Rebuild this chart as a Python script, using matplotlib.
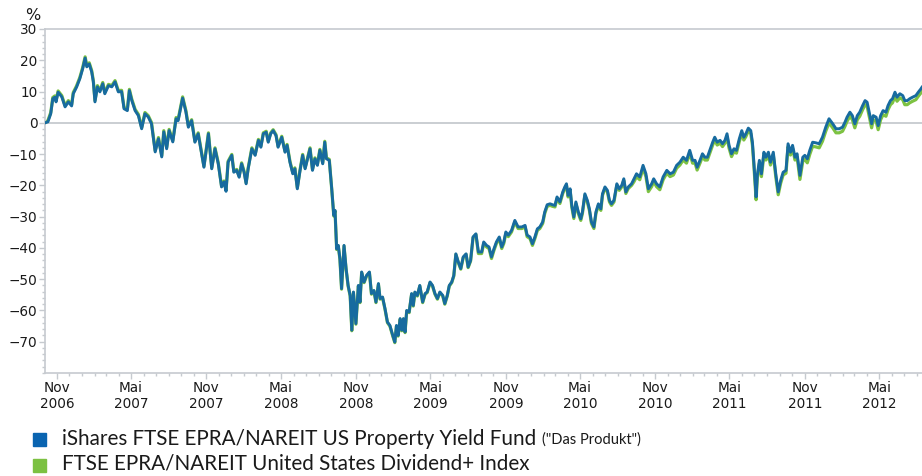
import numpy as np
import matplotlib
matplotlib.use("Agg")
import matplotlib.pyplot as plt
import matplotlib.dates as mdates
from matplotlib.ticker import MultipleLocator
from matplotlib.patches import Rectangle

# performance in %, sampled roughly weekly, day offsets counted from the first price
start = np.datetime64("2006-10-03")
days = [
    0, 7, 14, 19, 24, 27, 32, 41, 49, 57, 65, 69, 77, 85, 92, 98, 102, 108, 114, 118,
    122, 128, 134, 141, 146, 155, 163, 171, 179, 187, 193, 201, 206, 212, 220, 228, 236, 244, 252, 260,
    269, 277, 285, 290, 297, 303, 312, 320, 325, 336, 344, 350,
    358, 366, 374, 383, 388, 393, 399, 407, 415, 423, 431, 437, 442, 447, 456, 461, 468, 474, 480, 486,
    491, 496, 505, 513, 521, 527, 533, 540, 545, 551, 557, 564, 569, 578, 586, 591, 598, 605, 610, 616,
    622, 629, 635, 640, 647, 653, 659, 665, 671, 678, 683, 687, 694,
    700, 705, 708, 712, 716, 720, 724, 730, 735, 740, 745, 749, 753, 759, 765, 769, 773, 779, 785, 792,
    797, 803, 808, 814, 818, 824, 830, 836, 842, 849, 854, 858, 862, 867, 871, 875, 879, 883, 889, 895,
    899, 903, 909, 915, 922, 928, 933, 940, 946, 952, 958, 964, 971, 976, 982, 987, 993, 998, 1003, 1009,
    1015, 1021, 1028, 1033, 1039, 1045, 1052,
    1058, 1066, 1071, 1078, 1084, 1090, 1096, 1102, 1109, 1115, 1120, 1125, 1131, 1139, 1147, 1155, 1164, 1172, 1177, 1184,
    1190, 1196, 1202, 1208, 1215, 1220, 1226, 1233, 1239, 1245, 1250, 1257, 1264, 1269, 1273, 1277, 1282, 1286, 1291, 1296,
    1302, 1308, 1312, 1318, 1324, 1329, 1334, 1340, 1345, 1351, 1357, 1361, 1367, 1373, 1378, 1383, 1389, 1396, 1402, 1408,
    1413, 1418, 1424, 1432,
    1438, 1444, 1452, 1460, 1467, 1473, 1481, 1486, 1493, 1501, 1509, 1518, 1526, 1534, 1542, 1550, 1558, 1566, 1574, 1581,
    1587, 1592, 1599, 1605, 1611, 1617, 1623, 1630, 1635, 1641, 1648, 1654, 1660, 1665, 1670, 1676, 1682, 1688, 1695, 1701,
    1706, 1711, 1717, 1723, 1727, 1731, 1736, 1739, 1744, 1749, 1755, 1760, 1766, 1771, 1778, 1784, 1790, 1796, 1802, 1809,
    1814, 1820, 1825, 1831, 1836,
    1843, 1850, 1855, 1861, 1867, 1874, 1882, 1890, 1898, 1906, 1914, 1923, 1931, 1939, 1947, 1953, 1958, 1965, 1971, 1977,
    1983, 1989, 1996, 2002, 2007, 2012, 2018, 2022, 2029, 2034, 2040, 2046, 2053, 2058, 2064, 2069, 2075, 2080, 2087, 2094,
    2099, 2105, 2111, 2118, 2126, 2132, 2138, 2141,
]

# iShares FTSE EPRA/NAREIT US Property Yield Fund
fund = [
    0, 0.3, 2.9, 7.7, 8.2, 6.7, 9.8, 8.3, 5.1, 6.7, 5.4, 9.3, 11.4, 14.1, 17.3, 20.7, 17.9, 18.8, 16.3, 13.1,
    6.7, 11.5, 9.9, 12.5, 9.3, 11.9, 11.5, 13.1, 9.9, 10.0, 4.5, 3.9, 10.3, 7.1, 3.9, 2.3, -1.9, 2.9, 1.9, -0.3,
    -9.3, -5.1, -10.9, -2.9, -8.3, -2.5, -6.1, 1.3, 0.7, 7.9, 3.5, -1.4,
    0.7, -6.2, -3.5, -10.4, -14.2, -9.4, -3.5, -14.7, -8.3, -13.1, -20.5, -18.9, -21.9, -12.6, -10.4, -15.8, -15.2, -17.4, -13.1, -15.8,
    -19.5, -14.7, -8.3, -10.4, -5.6, -7.8, -3.5, -3.0, -6.2, -3.5, -2.5, -4.1, -7.8, -4.6, -9.4, -7.2, -12.6, -16.3, -14.7, -21.1,
    -15.8, -10.4, -14.7, -12.0, -8.3, -15.2, -11.5, -13.6, -8.8, -13.1, -6.2, -11.5, -12.0,
    -21.1, -29.6, -28.0, -40.3, -39.2, -43.5, -53.0, -39.2, -46.6, -52.0, -55.2, -66.3, -54.1, -64.2, -52.0, -57.3, -47.7, -50.9, -48.8, -47.7,
    -54.6, -53.6, -57.3, -51.4, -56.2, -55.7, -59.4, -63.7, -64.8, -68.0, -70.1, -64.8, -68.0, -62.6, -66.3, -62.6, -66.9, -60.0, -60.5, -54.6,
    -58.4, -54.1, -55.2, -52.0, -57.3, -54.6, -54.1, -50.9, -52.0, -54.6, -56.2, -54.1, -55.2, -57.8, -55.2, -52.0, -50.9, -48.8, -41.9, -44.5,
    -46.6, -42.9, -41.9, -46.1, -44.0, -36.5, -35.5,
    -41.3, -41.3, -38.1, -39.2, -39.7, -42.9, -40.3, -38.1, -36.5, -39.7, -38.1, -34.9, -35.9, -34.4, -31.2, -33.3, -33.3, -32.8, -35.9, -36.5,
    -38.7, -36.5, -33.9, -33.3, -31.7, -28.5, -26.2, -25.9, -26.2, -26.4, -23.7, -25.3, -22.1, -20.5, -19.5, -23.2, -21.1, -26.4, -30.1, -25.3,
    -28.5, -30.7, -28.5, -22.7, -24.8, -27.5, -31.7, -33.3, -28.5, -25.9, -27.5, -22.7, -20.5, -21.6, -24.8, -25.9, -24.8, -19.5, -21.1, -20.0,
    -17.9, -22.1, -20.5, -19.5,
    -17.9, -16.3, -17.3, -13.6, -16.3, -21.1, -19.5, -17.9, -19.5, -20.5, -17.3, -15.2, -16.3, -15.8, -13.6, -12.6, -11.0, -12.0, -8.8, -12.0,
    -12.0, -14.2, -12.0, -9.9, -11.0, -11.0, -8.8, -6.2, -4.6, -6.2, -5.6, -6.7, -5.6, -3.5, -7.2, -9.9, -8.3, -8.8, -5.1, -2.5,
    -4.6, -3.5, -1.7, -2.5, -6.2, -13.6, -23.7, -16.8, -12.0, -16.3, -9.4, -11.0, -9.4, -12.6, -9.4, -16.3, -22.1, -18.4, -15.8, -15.2,
    -6.7, -9.4, -7.2, -11.0, -9.9,
    -16.8, -11.0, -10.4, -11.5, -8.8, -6.2, -6.4, -6.7, -4.6, -1.4, 1.3, -0.3, -1.9, -1.9, -1.4, 0.2, 1.8, 3.4, 2.3, -0.3,
    2.3, 3.4, 5.5, 7.1, 6.6, 3.4, -0.3, 2.3, 1.8, -0.9, 2.3, 3.9, 3.4, 5.5, 7.1, 7.7, 9.8, 8.2, 9.3, 8.7,
    7.1, 7.1, 7.7, 8.2, 8.7, 9.8, 10.8, 11.4,
]

# FTSE EPRA/NAREIT United States Dividend+ Index
index = [
    0.0, 0.7, 3.3, 8.1, 8.6, 7.1, 10.2, 8.7, 5.5, 7.1, 5.8, 9.7, 11.8, 14.5, 17.7, 21.1, 18.3, 19.2, 16.7, 13.5,
    7.1, 11.9, 10.3, 12.9, 9.7, 12.3, 11.9, 13.5, 10.3, 10.4, 4.9, 4.3, 10.7, 7.5, 4.3, 2.7, -1.5, 3.3, 2.3, 0.1,
    -8.9, -4.7, -10.5, -2.5, -7.9, -2.1, -5.7, 1.7, 1.1, 8.3, 3.9, -1.0,
    1.0, -5.9, -3.2, -10.1, -13.9, -9.1, -3.2, -14.4, -8.0, -12.8, -20.2, -18.6, -21.6, -12.3, -10.1, -15.5, -14.9, -17.1, -12.8, -15.5,
    -19.2, -14.4, -8.0, -10.1, -5.3, -7.5, -3.2, -2.7, -5.9, -3.2, -2.2, -3.8, -7.5, -4.3, -9.1, -6.9, -12.3, -16.0, -14.4, -20.8,
    -15.5, -10.1, -14.4, -11.7, -8.0, -14.9, -11.2, -13.3, -8.5, -12.8, -5.9, -11.2, -11.7,
    -21.3, -29.8, -28.2, -40.5, -39.4, -43.7, -53.2, -39.4, -46.8, -52.2, -55.4, -66.5, -54.3, -64.4, -52.2, -57.5, -47.9, -51.1, -49.0, -47.9,
    -54.8, -53.8, -57.5, -51.6, -56.4, -55.9, -59.6, -63.9, -65.0, -68.2, -70.3, -65.0, -68.2, -62.8, -66.5, -62.8, -67.1, -60.2, -60.7, -54.8,
    -58.6, -54.3, -55.4, -52.2, -57.5, -54.8, -54.3, -51.1, -52.2, -54.8, -56.4, -54.3, -55.4, -58.0, -55.4, -52.2, -51.1, -49.0, -42.1, -44.7,
    -46.8, -43.1, -42.1, -46.3, -44.2, -36.7, -35.7,
    -41.8, -41.8, -38.6, -39.7, -40.2, -43.4, -40.8, -38.6, -37.0, -40.2, -38.6, -35.4, -36.4, -34.9, -31.7, -33.8, -33.8, -33.3, -36.4, -37.0,
    -39.2, -37.0, -34.4, -33.8, -32.2, -29.0, -26.7, -26.4, -26.7, -26.9, -24.2, -25.8, -22.6, -21.0, -20.0, -23.7, -21.6, -26.9, -30.6, -25.8,
    -29.0, -31.2, -29.0, -23.2, -25.3, -28.0, -32.2, -33.8, -29.0, -26.4, -28.0, -23.2, -21.0, -22.1, -25.3, -26.4, -25.3, -20.0, -21.6, -20.5,
    -18.4, -22.6, -21.0, -20.0,
    -18.8, -17.2, -18.2, -14.5, -17.2, -22.0, -20.4, -18.8, -20.4, -21.4, -18.2, -16.1, -17.2, -16.7, -14.5, -13.5, -11.9, -12.9, -9.7, -12.9,
    -12.9, -15.1, -12.9, -10.8, -11.9, -11.9, -9.7, -7.1, -5.5, -7.1, -6.5, -7.6, -6.5, -4.4, -8.1, -10.8, -9.2, -9.7, -6.0, -3.4,
    -5.5, -4.4, -2.6, -3.4, -7.1, -14.5, -24.6, -17.7, -12.9, -17.2, -10.3, -11.9, -10.3, -13.5, -10.3, -17.2, -23.0, -19.3, -16.7, -16.1,
    -7.6, -10.3, -8.1, -11.9, -10.8,
    -18.1, -12.3, -11.7, -12.8, -10.1, -7.5, -7.7, -8.0, -5.9, -2.7, 0.0, -1.6, -3.2, -3.2, -2.7, -1.1, 0.5, 2.1, 1.0, -1.6,
    1.0, 2.1, 4.2, 5.8, 5.3, 2.1, -1.6, 1.0, 0.5, -2.2, 1.0, 2.6, 2.1, 4.2, 5.8, 6.4, 8.5, 6.9, 8.0, 7.4,
    5.8, 5.8, 6.4, 6.9, 7.4, 8.5, 9.5, 10.1,
]

tick_dates = ["2006-11-01", "2007-05-01", "2007-11-01", "2008-05-01", "2008-11-01", "2009-05-01",
              "2009-11-01", "2010-05-01", "2010-11-01", "2011-05-01", "2011-11-01", "2012-05-01"]
tick_labels = ["Nov\n2006", "Mai\n2007", "Nov\n2007", "Mai\n2008", "Nov\n2008", "Mai\n2009",
               "Nov\n2009", "Mai\n2010", "Nov\n2010", "Mai\n2011", "Nov\n2011", "Mai\n2012"]
fund_label = "iShares FTSE EPRA/NAREIT US Property Yield Fund"
fund_note = '("Das Produkt")'
index_label = "FTSE EPRA/NAREIT United States Dividend+ Index"

BLUE = "#176b9f"
GREEN = "#7dc242"
GREY = "#c6cacf"

dates = start + np.array(days).astype("timedelta64[D]")

W, H = 922, 476
fig = plt.figure(figsize=(W / 100, H / 100), dpi=100)
ax = fig.add_axes([45 / W, 103 / H, 877 / W, 344 / H])

ax.axhline(0, color=GREY, lw=1.3, zorder=1)
ax.plot(dates, index, color=GREEN, lw=2.3, zorder=2)
ax.plot(dates, fund, color=BLUE, lw=2.1, zorder=3)

ax.set_xlim(dates[0], dates[-1])
ax.set_ylim(-80, 30)
ax.set_yticks(range(-70, 31, 10))
ax.yaxis.set_minor_locator(MultipleLocator(2))
ax.set_xticks(np.array(tick_dates, dtype="datetime64[D]"))
ax.set_xticklabels(tick_labels)
ax.xaxis.set_minor_locator(mdates.MonthLocator())

for side in ["top", "bottom", "left"]:
    ax.spines[side].set_color(GREY)
    ax.spines[side].set_linewidth(1.2)
ax.spines["right"].set_visible(False)

ax.tick_params(which="both", direction="out", color=GREY, width=1)
ax.tick_params(which="major", length=4, labelsize=9.8, labelcolor="#1a1a1a", pad=1.5)
ax.tick_params(which="minor", length=2.5)

fig.text(33 / W, 1 - 16 / H, "%", fontsize=11.5, ha="center", va="center", color="#1a1a1a")

# legend drawn by hand, the first entry has a smaller note behind it
fig.patches.append(Rectangle((33 / W, 1 - 446 / H), 13 / W, 13 / H, transform=fig.transFigure,
                             color="#0a64b0"))
fig.patches.append(Rectangle((33 / W, 1 - 472 / H), 13 / W, 13 / H, transform=fig.transFigure,
                             color="#7cc142"))
t1 = fig.text(62 / W, 1 - 439 / H, fund_label, fontsize=14.9, family="Lato", va="center", color="#1a1a1a")
fig.text(62 / W, 1 - 464 / H, index_label, fontsize=14.9, family="Lato", va="center", color="#1a1a1a")
ax.annotate(fund_note, xy=(1, 0.12), xycoords=t1, xytext=(4, 0), textcoords="offset points",
            fontsize=10.5, family="Lato", va="bottom", color="#1a1a1a")

fig.savefig("out.png", dpi=100)
